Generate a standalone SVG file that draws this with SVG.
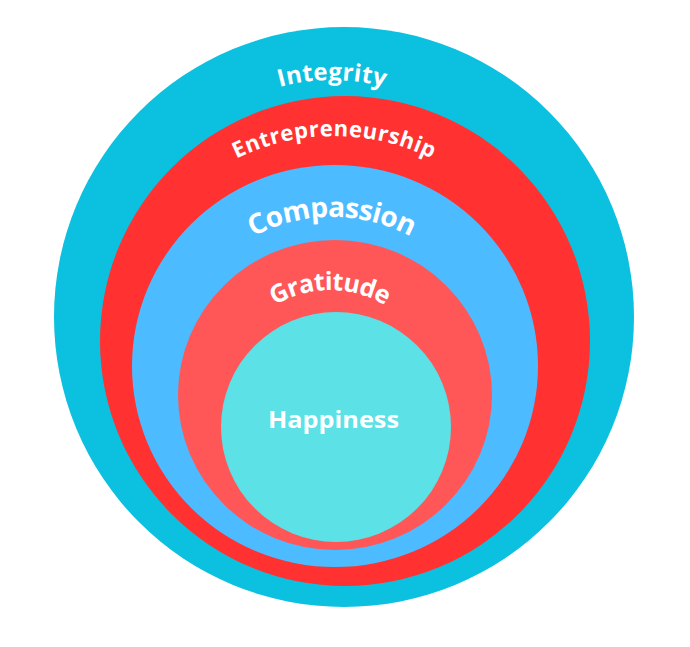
<svg xmlns="http://www.w3.org/2000/svg" xmlns:xlink="http://www.w3.org/1999/xlink" width="690" height="647" viewBox="0 0 690 647">
  <style>
    .lbl { font-family: "Open Sans", "Liberation Sans", sans-serif; font-weight: 700; fill: #ffffff; }
  </style>
  <defs>
    <path id="arc-integrity" d="M 158.8 180 A 200 200 0 0 1 505.2 180"/>
    <path id="arc-entre" d="M 140.9 247.5 A 223 223 0 0 1 527.1 247.5"/>
    <path id="arc-comp" d="M 186.5 301 A 168 168 0 0 1 477.5 301"/>
    <path id="arc-grat" d="M 236.5 344 A 108 108 0 0 1 423.5 344"/>
  </defs>
  <rect width="690" height="647" fill="#ffffff"/>
  <g id="integrity">
    <circle cx="344" cy="317" r="290" fill="#0cc0df"/>
    <text class="lbl" font-size="24"><textPath href="#arc-integrity" startOffset="50%" text-anchor="middle" textLength="106" lengthAdjust="spacing">Integrity</textPath></text>
  </g>
  <g id="entrepreneurship">
    <circle cx="345" cy="341" r="245" fill="#ff3131"/>
    <text class="lbl" font-size="22"><textPath href="#arc-entre" startOffset="50%" text-anchor="middle" textLength="202" lengthAdjust="spacing">Entrepreneurship</textPath></text>
  </g>
  <g id="compassion">
    <ellipse cx="335" cy="366" rx="203" ry="201" fill="#4dbbff"/>
    <text class="lbl" font-size="28"><textPath href="#arc-comp" startOffset="50%" text-anchor="middle" textLength="164" lengthAdjust="spacing">Compassion</textPath></text>
  </g>
  <g id="gratitude">
    <ellipse cx="335" cy="395" rx="157" ry="155" fill="#ff5757"/>
    <text class="lbl" font-size="25"><textPath href="#arc-grat" startOffset="50%" text-anchor="middle" textLength="116" lengthAdjust="spacing">Gratitude</textPath></text>
  </g>
  <g id="happiness">
    <circle cx="336" cy="427" r="115" fill="#5ce1e6"/>
    <text class="lbl" x="333.5" y="428" font-size="24" text-anchor="middle" textLength="131" lengthAdjust="spacingAndGlyphs">Happiness</text>
  </g>
  <g id="connectors"/>
</svg>
